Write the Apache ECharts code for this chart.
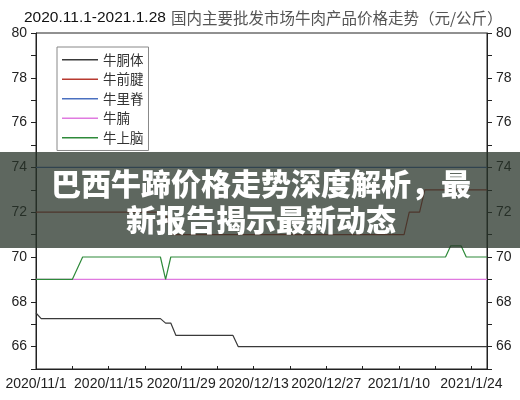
<!DOCTYPE html>
<html>
<head>
<meta charset="utf-8">
<script src="https://cdn.jsdelivr.net/npm/echarts@6/dist/echarts.min.js"></script>
<style>
html,body{margin:0;padding:0;background:#fff;}
#c{width:520px;height:400px;}
</style>
</head>
<body>
<div id="c"></div>
<script>
// ---- data ----
var startDate = [2020, 11, 1];
var dayCount = 88; // 2020/11/1 .. 2021/1/27
var seriesNames = ['牛胴体', '牛前腱', '牛里脊', '牛腩', '牛上脑'];
var seriesColors = ['#3a3a3a', '#b83a30', '#4a70c0', '#e07ae0', '#2e8a3a'];

var niuDongTi = [
  67.5,67.25,67.25,67.25,67.25,67.25,67.25,67.25,67.25,67.25,67.25,67.25,
  67.25,67.25,67.25,67.25,67.25,67.25,67.25,67.25,67.25,67.25,67.25,67.25,
  67.25,67.05,67.05,66.5,66.5,66.5,66.5,66.5,66.5,66.5,66.5,66.5,
  66.5,66.5,66.5,66,66,66,66,66,66,66,66,66,
  66,66,66,66,66,66,66,66,66,66,66,66,
  66,66,66,66,66,66,66,66,66,66,66,66,
  66,66,66,66,66,66,66,66,66,66,66,66,
  66,66,66,66
];
var niuQianJian = [
  72,72,72,72,72,72,72,72,72,72,72,72,
  72,72,72,72,72,72,72,72,72,72,72,72,
  72,72,71,71,71,71,71,71,71,71,71,71,
  71,71,71,71,71,71,71,71,71,71,71,71,
  71,71,71,71,71,71,71,71,71,71,71,71,
  71,71,71,71,71,71,71,71,71,71,71,71,
  72,72,72,73,73,73,73,73,73,73,73,73,
  73,73,73,73
];
var niuLiJi = [
  74,74,74,74,74,74,74,74,74,74,74,74,
  74,74,74,74,74,74,74,74,74,74,74,74,
  74,74,74,74,74,74,74,74,74,74,74,74,
  74,74,74,74,74,74,74,74,74,74,74,74,
  74,74,74,74,74,74,74,74,74,74,74,74,
  74,74,74,74,74,74,74,74,74,74,74,74,
  74,74,74,74,74,74,74,74,74,74,74,74,
  74,74,74,74
];
var niuNan = [
  69,69,69,69,69,69,69,69,69,69,69,69,
  69,69,69,69,69,69,69,69,69,69,69,69,
  69,69,69,69,69,69,69,69,69,69,69,69,
  69,69,69,69,69,69,69,69,69,69,69,69,
  69,69,69,69,69,69,69,69,69,69,69,69,
  69,69,69,69,69,69,69,69,69,69,69,69,
  69,69,69,69,69,69,69,69,69,69,69,69,
  69,69,69,69
];
var niuShangNao = [
  69,69,69,69,69,69,69,69,69.5,70,70,70,
  70,70,70,70,70,70,70,70,70,70,70,70,
  70,69,70,70,70,70,70,70,70,70,70,70,
  70,70,70,70,70,70,70,70,70,70,70,70,
  70,70,70,70,70,70,70,70,70,70,70,70,
  70,70,70,70,70,70,70,70,70,70,70,70,
  70,70,70,70,70,70,70,70,70.5,70.5,70.5,70,
  70,70,70,70
];
var yMin = 65, yMax = 80;
var titleDate = '2020.11.1-2021.1.28';
var titleText = '国内主要批发市场牛肉产品价格走势（元/公斤）';
var bannerLines = ['巴西牛蹄价格走势深度解析，最', '新报告揭示最新动态'];

// categories (one per day)
var categories = [];
(function () {
  var d = new Date(startDate[0], startDate[1] - 1, startDate[2]);
  for (var i = 0; i < dayCount; i++) {
    categories.push(d.getFullYear() + '/' + (d.getMonth() + 1) + '/' + d.getDate());
    d.setDate(d.getDate() + 1);
  }
})();

var allData = [niuDongTi, niuQianJian, niuLiJi, niuNan, niuShangNao];

var chart = echarts.init(document.getElementById('c'), null, {renderer: 'canvas'});

function yAxisDef(pos) {
  return {
    type: 'value', position: pos, min: yMin, max: yMax, interval: 1,
    axisLine: {show: true, lineStyle: {color: '#222', width: 1}},
    axisTick: {show: true, inside: false, length: 5, lineStyle: {color: '#222'}},
    splitLine: {show: false},
    axisLabel: {
      margin: 9, color: '#222', fontSize: 14, fontFamily: 'Liberation Sans, Arial, sans-serif',
      formatter: function (v) { return v % 2 === 0 ? String(v) : ''; }
    }
  };
}

var series = seriesNames.map(function (n, i) {
  return {
    name: n, type: 'line', data: allData[i], symbol: 'none',
    lineStyle: {color: seriesColors[i], width: 1.2},
    itemStyle: {color: seriesColors[i]},
    z: 2 + i, animation: false
  };
});

chart.setOption({
  animation: false,
  backgroundColor: '#fff',
  title: {
    text: '{a|' + titleDate + '} {b|' + titleText + '}',
    left: 19, top: 4,
    textStyle: {
      rich: {
        a: {fontSize: 15.5, color: '#111', fontFamily: 'Liberation Sans, Arial, sans-serif', fontWeight: 'normal'},
        b: {fontSize: 15.5, color: '#555', fontFamily: 'Noto Sans CJK SC, sans-serif', fontWeight: 'normal'}
      }
    }
  },
  grid: {left: 36, right: 33, top: 33, bottom: 31, show: true, borderColor: '#222', borderWidth: 1},
  legend: {
    orient: 'vertical', left: 57, top: 47,
    data: seriesNames.map(function (n) { return {name: n, icon: 'path://M0,0H36V1.6H0Z'}; }),
    borderColor: '#888', borderWidth: 1, padding: [6, 5, 6, 5],
    itemWidth: 36, itemHeight: 14, itemGap: 6,
    textStyle: {fontSize: 13.5, color: '#333', fontFamily: 'Noto Sans CJK SC, sans-serif'}
  },
  xAxis: {
    type: 'category', data: categories, boundaryGap: false,
    axisLine: {show: true, lineStyle: {color: '#222', width: 1}},
    axisTick: {show: true, inside: true, length: 3, interval: function (idx) { return idx % 7 === 0; }, lineStyle: {color: '#222'}},
    axisLabel: {
      interval: function (idx) { return idx % 14 === 0; },
      margin: 8, color: '#222', fontSize: 14, fontFamily: 'Liberation Sans, Arial, sans-serif'
    },
    splitLine: {show: false}
  },
  yAxis: [yAxisDef('left'), yAxisDef('right')],
  series: series,
  graphic: [
    {type: 'rect', z: 100, shape: {x: 0, y: 152, width: 520, height: 96}, style: {fill: 'rgba(40,52,42,0.75)'}},
    {type: 'text', z: 101, x: 261, y: 184, style: {text: bannerLines[0], fill: '#fff', fontSize: 30, fontWeight: 900, fontFamily: 'Noto Sans CJK SC, sans-serif', textAlign: 'center', textVerticalAlign: 'middle'}},
    {type: 'text', z: 101, x: 261, y: 220, style: {text: bannerLines[1], fill: '#fff', fontSize: 30, fontWeight: 900, fontFamily: 'Noto Sans CJK SC, sans-serif', textAlign: 'center', textVerticalAlign: 'middle'}}
  ]
});
</script>
</body>
</html>
